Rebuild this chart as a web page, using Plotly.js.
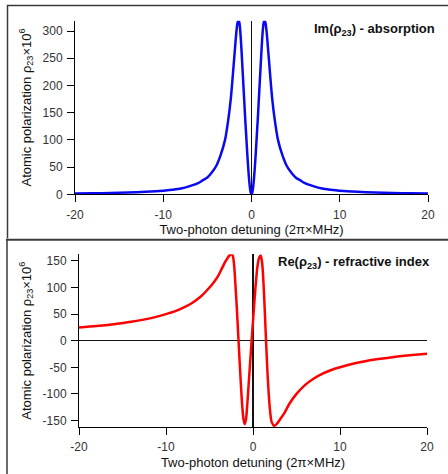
<!DOCTYPE html>
<html>
<head>
<meta charset="utf-8">
<script src="https://cdn.plot.ly/plotly-3.0.1.min.js"></script>
<style>
  html, body { margin: 0; padding: 0; background: #ffffff; }
  #chart { width: 448px; height: 474px; }
</style>
</head>
<body>
<div id="chart"></div>
<script>
// ---- Data ----
// Top panel: Im(rho23) - absorption (two-photon detuning in 2pi x MHz)
const imX = [-20, -18, -16, -14, -12, -10, -9, -8, -7, -6, -5.5, -5, -4.5, -4, -3.5, -3, -2.65, -2.35, -2.1, -1.9, -1.75, -1.6, -1.5, -1.4, -1.3, -1.2, -1.1, -1.0, -0.9, -0.8, -0.7, -0.6, -0.5, -0.4, -0.3, -0.2, -0.1, 0,
             0.1, 0.2, 0.3, 0.4, 0.5, 0.6, 0.7, 0.8, 0.9, 1.0, 1.1, 1.2, 1.3, 1.4, 1.5, 1.6, 1.75, 1.9, 2.1, 2.35, 2.65, 3, 3.5, 4, 4.5, 5, 5.5, 6, 7, 8, 9, 10, 12, 14, 16, 18, 20];
const imY = [1.5, 1.9, 2.4, 3.2, 4.5, 6.5, 8.2, 10.5, 15, 21, 26, 31, 40, 52, 72, 100, 135, 175, 222, 262, 292, 314, 319, 317, 305, 283, 255, 225, 195, 165, 135, 108, 80, 55, 33, 15, 4, 0,
             4, 15, 33, 55, 80, 108, 135, 165, 195, 225, 255, 283, 305, 317, 319, 314, 292, 262, 222, 175, 135, 100, 72, 52, 40, 31, 26, 21, 15, 10.5, 8.2, 6.5, 4.5, 3.2, 2.4, 1.9, 1.5];

// Bottom panel: Re(rho23) - refractive index
const reX = [-20, -18, -16, -14, -12, -10, -9, -8, -7, -6, -5, -4.5, -4, -3.6, -3.2, -2.9, -2.65, -2.45, -2.3, -2.15, -2.0, -1.85, -1.7, -1.55, -1.4, -1.25, -1.1, -0.95, -0.8, -0.65, -0.5, -0.35, -0.2, -0.05,
             0.1, 0.3, 0.5, 0.7, 0.88, 1.05, 1.2, 1.35, 1.5, 1.65, 1.8, 1.95, 2.15, 2.45, 2.75, 3.1, 3.6, 4.2, 5, 6, 7, 8, 9, 10, 12, 14, 16, 18, 20];
const reY = [25, 27.5, 31, 35.5, 41.5, 50, 55, 62, 71, 83, 100, 110, 122, 135, 148, 156, 161, 163, 158, 138, 100, 58, 12, -35, -80, -120, -147, -157, -147, -118, -82, -46, -10, 25,
             60, 103, 138, 156, 160, 146, 110, 57, 0, -55, -98, -130, -153, -160, -156, -148, -136, -118, -100, -83, -71, -62, -55, -50, -41.5, -35.5, -31, -27.5, -24.5];

// Tick labels
const xTickVals = [-20, -10, 0, 10, 20];
const xTickText = ['-20', '-10', '0', '10', '20'];
const yTopTickVals = [0, 50, 100, 150, 200, 250, 300];
const yTopTickText = ['0', '50', '100', '150', '200', '250', '300'];
const yBotTickVals = [-150, -100, -50, 0, 50, 100, 150];
const yBotTickText = ['-150', '-100', '-50', '0', '50', '100', '150'];

// Texts
const xTitle = 'Two-photon detuning (2π×MHz)';
const yTitle = 'Atomic polarization ρ<sub>23</sub>×10<sup>6</sup>';
const topLabel = '<b>Im(ρ<sub>23</sub>) - absorption</b>';
const botLabel = '<b>Re(ρ<sub>23</sub>) - refractive index</b>';

// ---- Layout helpers (pixel -> paper) ----
const W = 448, H = 474;
const px = v => v / W;
const py = v => 1 - v / H;

const FONT = 'Liberation Sans, Arial, Helvetica, sans-serif';

function xAxisCfg(domain, anchor) {
  return {
    domain: domain, anchor: anchor, range: [-20, 20],
    showline: true, linecolor: '#000', linewidth: 1,
    ticks: 'outside', ticklen: 7, tickwidth: 1, tickcolor: '#000',
    tickmode: 'array', tickvals: xTickVals, ticktext: xTickText,
    tickfont: { size: 12, color: '#333', family: FONT },
    ticklabelstandoff: 2,
    showgrid: false,
    zeroline: true, zerolinecolor: '#111', zerolinewidth: 1.2,
    title: { text: xTitle, font: { size: 13, color: '#111', family: FONT }, standoff: 4 },
    fixedrange: true
  };
}
function yAxisCfg(domain, anchor, range, vals, text, zl) {
  return {
    domain: domain, anchor: anchor, range: range,
    showline: true, linecolor: '#000', linewidth: 1,
    ticks: 'outside', ticklen: 7, tickwidth: 1, tickcolor: '#000',
    tickmode: 'array', tickvals: vals, ticktext: text,
    tickfont: { size: 12, color: '#333', family: FONT },
    ticklabelstandoff: 2,
    showgrid: false,
    zeroline: zl, zerolinecolor: '#111', zerolinewidth: 1.2,
    title: { text: yTitle, font: { size: 13, color: '#111', family: FONT }, standoff: 8 },
    fixedrange: true
  };
}

const traces = [
  { x: imX, y: imY, xaxis: 'x', yaxis: 'y', type: 'scatter', mode: 'lines',
    line: { color: '#0a0af0', width: 2.5, shape: 'spline', smoothing: 0.8 }, hoverinfo: 'skip' },
  { x: reX, y: reY, xaxis: 'x2', yaxis: 'y2', type: 'scatter', mode: 'lines',
    line: { color: '#ff0000', width: 2.5, shape: 'spline', smoothing: 0.8 }, hoverinfo: 'skip' }
];

const frameColor = '#3a3a3a';
const layout = {
  width: W, height: H,
  margin: { l: 0, r: 0, t: 0, b: 0 },
  paper_bgcolor: '#ffffff', plot_bgcolor: '#ffffff',
  showlegend: false,
  font: { family: FONT, color: '#111' },
  xaxis: xAxisCfg([px(75), px(428)], 'y'),
  yaxis: yAxisCfg([py(194.3), py(20.7)], 'x', [0, 319], yTopTickVals, yTopTickText, false),
  xaxis2: xAxisCfg([px(79), px(427)], 'y2'),
  yaxis2: yAxisCfg([py(427), py(254.3)], 'x2', [-162.2, 162.4], yBotTickVals, yBotTickText, true),
  shapes: [
    { type: 'line', xref: 'paper', yref: 'paper', x0: px(7.5), x1: px(7.5), y0: py(5), y1: py(238.5), line: { color: frameColor, width: 1.5 } },
    { type: 'line', xref: 'paper', yref: 'paper', x0: px(7), x1: 1, y0: py(5.5), y1: py(5.5), line: { color: frameColor, width: 1.5 } },
    { type: 'line', xref: 'paper', yref: 'paper', x0: px(6), x1: 1, y0: py(239.7), y1: py(239.7), line: { color: frameColor, width: 2 } },
    { type: 'line', xref: 'paper', yref: 'paper', x0: px(7), x1: px(7), y0: py(239.7), y1: 0, line: { color: frameColor, width: 1.5 } }
  ],
  annotations: [
    { text: topLabel, xref: 'paper', yref: 'paper', x: px(437), y: py(29), xanchor: 'right', yanchor: 'middle',
      showarrow: false, font: { size: 13, color: '#111', family: FONT } },
    { text: botLabel, xref: 'paper', yref: 'paper', x: px(432), y: py(262), xanchor: 'right', yanchor: 'middle',
      showarrow: false, font: { size: 13, color: '#111', family: FONT } }
  ]
};

Plotly.newPlot('chart', traces, layout, { staticPlot: true, displayModeBar: false });
</script>
</body>
</html>
